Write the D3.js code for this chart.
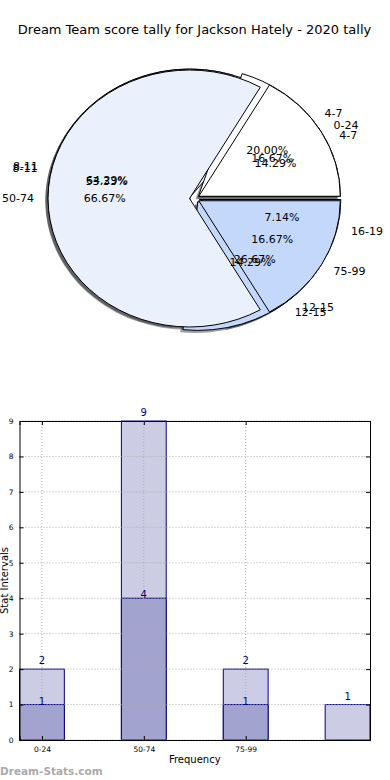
<!DOCTYPE html>
<html>
<head>
<meta charset="utf-8">
<script src="https://cdn.jsdelivr.net/npm/d3@7"></script>
<style>
  body { margin: 0; background: #fff; }
  svg { display: block; font-family: "DejaVu Sans", sans-serif; }
</style>
</head>
<body>
<script>
// pie data (three pies overlaid, drawn in this order)
let pieBLabels = ["4-7", "8-11", "12-15", "16-19"];
let pieBValues = [2, 9, 2, 1];
let pieCLabels = ["4-7", "8-11", "12-15"];
let pieCValues = [3, 8, 4];
let pieALabels = ["0-24", "50-74", "75-99"];
let pieAValues = [1, 4, 1];

// bar data
let barCategories = ["0-24", "50-74", "75-99", ""];
let barTotals = [2, 9, 2, 1];
let barInner = [1, 4, 1, 0];
let yTicks = [0, 1, 2, 3, 4, 5, 6, 7, 8, 9];

let W = 390, H = 780;
let sliceColors = ["#ffffff", "#eaf0fc", "#c4d8fc", "#9fbcf0"];

let svg = d3.select("body").append("svg")
    .attr("width", W)
    .attr("height", H);

svg.append("text")
    .attr("x", W / 2 - 0.5)
    .attr("y", 34)
    .attr("text-anchor", "middle")
    .style("font-size", "13px")
    .text("Dream Team score tally for Jackson Hately - 2020 tally");

// ---- pies ----
let cx = 194.5, cy = 198.5, rx = 141.5, ry = 128.5;
let explode = 0.035;
let shadowDx = -2.8, shadowDy = 2.6;

// matplotlib style: start at east, counter-clockwise
let pie = d3.pie().sort(null)
    .startAngle(Math.PI / 2)
    .endAngle(Math.PI / 2 - 2 * Math.PI);

let arc = d3.arc().innerRadius(0).outerRadius(1);

let pies = [
    {labels: pieBLabels, values: pieBValues},
    {labels: pieCLabels, values: pieCValues},
    {labels: pieALabels, values: pieAValues}
];

pies.forEach(p => {
    let total = d3.sum(p.values);
    p.slices = pie(p.values).map((d, i) => {
        let mid = (d.startAngle + d.endAngle) / 2;
        let ux = Math.sin(mid), uy = -Math.cos(mid);
        return {
            arc: d, i: i,
            label: p.labels[i],
            pct: (100 * p.values[i] / total).toFixed(2) + "%",
            ux: ux, uy: uy,
            ox: cx + explode * rx * ux,
            oy: cy + explode * ry * uy
        };
    });
});

let allSlices = pies.flatMap(p => p.slices);

let shadowLayer = svg.append("g");
let wedgeLayer = svg.append("g");
let textLayer = svg.append("g").style("font-size", "11px");

shadowLayer.selectAll("path")
    .data(allSlices)
    .enter().append("path")
    .attr("d", d => arc(d.arc))
    .attr("transform", d => "translate(" + (d.ox + shadowDx) + "," + (d.oy + shadowDy) + ") scale(" + rx + "," + ry + ")")
    .attr("fill", d => d3.color(sliceColors[d.i]).darker(3.3))
    .attr("opacity", 0.5);

wedgeLayer.selectAll("path")
    .data(allSlices)
    .enter().append("path")
    .attr("d", d => arc(d.arc))
    .attr("transform", d => "translate(" + d.ox + "," + d.oy + ") scale(" + rx + "," + ry + ")")
    .attr("fill", d => sliceColors[d.i])
    .attr("stroke", "#000")
    .attr("stroke-width", 1)
    .attr("vector-effect", "non-scaling-stroke")
    .attr("stroke-linejoin", "miter");

// category labels
textLayer.selectAll(".lab")
    .data(allSlices)
    .enter().append("text")
    .attr("class", "lab")
    .attr("x", d => d.ox + 1.1 * rx * d.ux)
    .attr("y", d => d.oy + 1.1 * ry * d.uy)
    .attr("dy", "0.35em")
    .attr("text-anchor", d => d.ux > 0 ? "start" : "end")
    .text(d => d.label);

// percentages
textLayer.selectAll(".pct")
    .data(allSlices)
    .enter().append("text")
    .attr("class", "pct")
    .attr("x", d => d.ox + 0.6 * rx * d.ux)
    .attr("y", d => d.oy + 0.6 * ry * d.uy)
    .attr("dy", "0.35em")
    .attr("text-anchor", "middle")
    .text(d => d.pct);

// ---- bar chart ----
let plotLeft = 19.5, plotRight = 370, plotTop = 421, plotBottom = 740;

let x = d3.scaleLinear().domain([-0.22, 3.22]).range([plotLeft, plotRight]);
let y = d3.scaleLinear().domain([0, 9]).range([plotBottom, plotTop]);
let bw = x(0.44) - x(0);
let navy = "#000080";

let chart = svg.append("g");

chart.selectAll(".outer")
    .data(barTotals)
    .enter().append("rect")
    .attr("x", (d, i) => x(i) - bw / 2)
    .attr("y", d => y(d))
    .attr("width", bw)
    .attr("height", d => y(0) - y(d))
    .attr("fill", "#ccccE4")
    .attr("stroke", navy)
    .attr("stroke-width", 1);

chart.selectAll(".inner")
    .data(barInner)
    .enter().append("rect")
    .attr("x", (d, i) => x(i) - bw / 2)
    .attr("y", d => y(d))
    .attr("width", bw)
    .attr("height", d => y(0) - y(d))
    .attr("fill", "#a3a3cf")
    .attr("stroke", navy)
    .attr("stroke-width", d => d > 0 ? 1 : 0);

// grid on top of bars
chart.selectAll(".hgrid")
    .data(yTicks)
    .enter().append("line")
    .attr("x1", plotLeft).attr("x2", plotRight)
    .attr("y1", d => y(d)).attr("y2", d => y(d))
    .attr("stroke", "#aaa")
    .attr("stroke-width", 1)
    .attr("stroke-dasharray", "1,2");

chart.selectAll(".vgrid")
    .data(barCategories.filter(c => c !== ""))
    .enter().append("line")
    .attr("x1", (d, i) => x(i)).attr("x2", (d, i) => x(i))
    .attr("y1", plotTop).attr("y2", plotBottom)
    .attr("stroke", "#aaa")
    .attr("stroke-width", 1)
    .attr("stroke-dasharray", "1,2");

// axes box with inward ticks
let yAxisL = d3.axisLeft(y).tickValues(yTicks).tickSize(-4).tickPadding(6);
let yAxisR = d3.axisRight(y).tickValues(yTicks).tickSize(-4).tickFormat("");
let xAxisB = d3.axisBottom(x).tickValues([0, 1, 2]).tickSize(-4).tickPadding(7)
    .tickFormat(i => barCategories[i]);
let xAxisT = d3.axisTop(x).tickValues([0, 1, 2]).tickSize(-4).tickFormat("");

[
    [yAxisL, "translate(" + plotLeft + ",0)"],
    [yAxisR, "translate(" + plotRight + ",0)"],
    [xAxisB, "translate(0," + plotBottom + ")"],
    [xAxisT, "translate(0," + plotTop + ")"]
].forEach(a => {
    let g = chart.append("g")
        .attr("transform", a[1])
        .call(a[0]);
    g.select(".domain").attr("stroke", "#000");
    g.selectAll("text")
        .style("font-family", "DejaVu Sans, sans-serif")
        .style("font-size", "7.5px")
        .attr("fill", "#000");
});

// value labels
chart.selectAll(".vt")
    .data(barTotals)
    .enter().append("text")
    .attr("x", (d, i) => x(i))
    .attr("y", d => y(d) - 5)
    .attr("text-anchor", "middle")
    .attr("fill", navy)
    .style("font-size", "10px")
    .text(d => d);

chart.selectAll(".vi")
    .data(barInner.filter(d => d > 0))
    .enter().append("text")
    .attr("x", (d, i) => x(i))
    .attr("y", d => y(d))
    .attr("text-anchor", "middle")
    .attr("fill", navy)
    .style("font-size", "10px")
    .text(d => d);

chart.append("text")
    .attr("x", (plotLeft + plotRight) / 2)
    .attr("y", 763)
    .attr("text-anchor", "middle")
    .style("font-size", "10px")
    .text("Frequency");

chart.append("text")
    .attr("transform", "translate(7.5," + ((plotTop + plotBottom) / 2) + ") rotate(-90)")
    .attr("text-anchor", "middle")
    .style("font-size", "10px")
    .text("Stat Intervals");

svg.append("text")
    .attr("x", 0)
    .attr("y", 775)
    .attr("fill", "#aaa")
    .style("font-size", "10.5px")
    .style("font-weight", "bold")
    .text("Dream-Stats.com");
</script>
</body>
</html>
